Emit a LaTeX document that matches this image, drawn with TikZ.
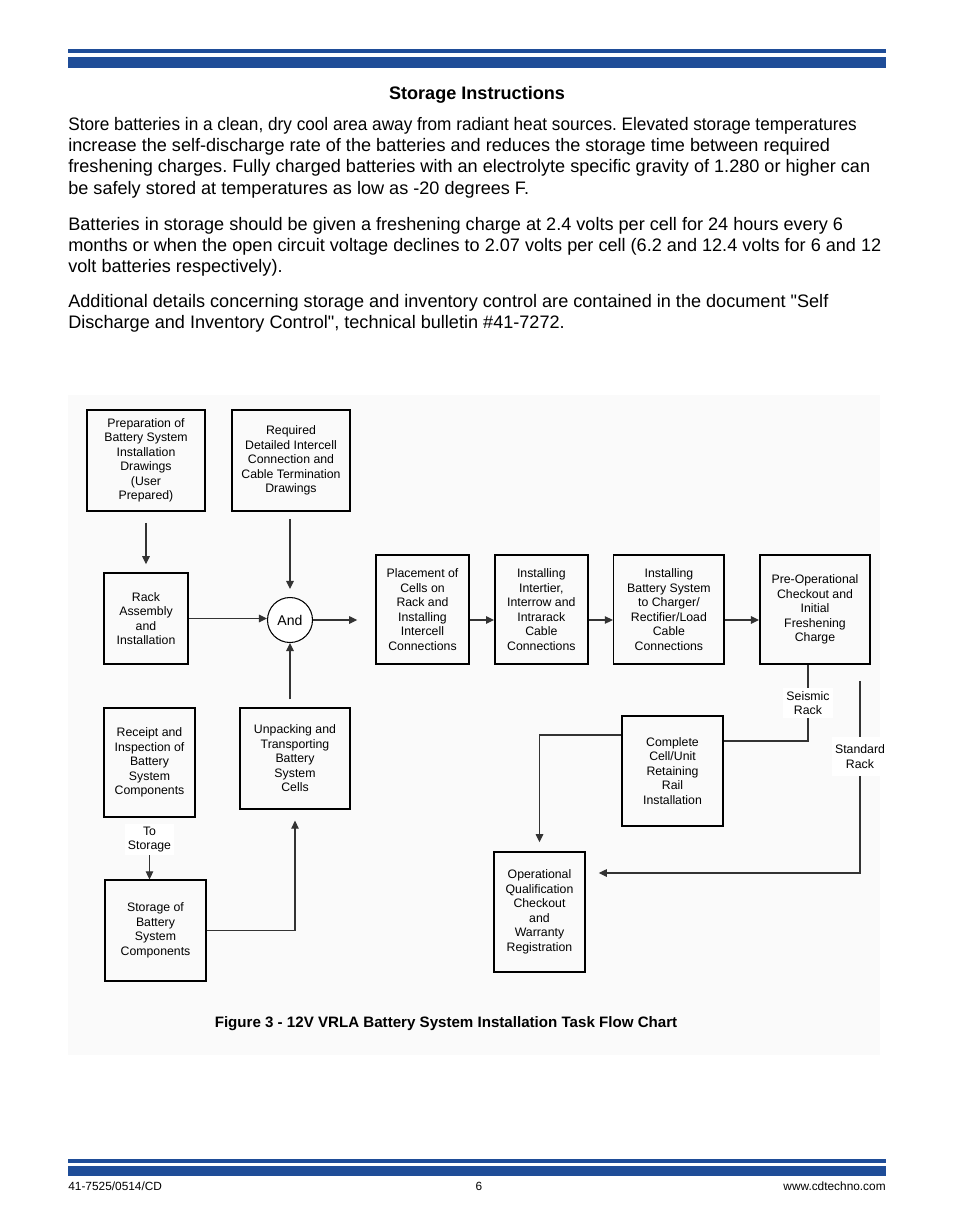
\documentclass[tikz,border=0pt]{standalone}
\usepackage{fontspec}
\setmainfont{Liberation Sans}[Ligatures=TeXOff]
\usepackage{xcolor}
\usepackage{tikz}
\usetikzlibrary{positioning, arrows.meta, calc}

\definecolor{cdblue}{HTML}{1F4D98}
\frenchspacing

\begin{document}
\begin{tikzpicture}[x=0.2mm, y=-0.2mm, >={Triangle[length=1.6mm,width=1.5mm]},
  box/.style={draw,line width=0.9pt,align=center,inner sep=1pt,font=\fontsize{7}{8.25}\selectfont},
  flow/.style={->,line width=0.6pt,draw=black!80},
  line/.style={line width=0.6pt,draw=black!80},
  lbl/.style={fill=white,align=center,inner sep=0.6mm,font=\fontsize{7}{8.25}\selectfont},
  body/.style={anchor=north west,inner sep=0,align=left,font=\fontsize{10.3}{12.1}\selectfont}]
  \useasboundingbox (0,0) rectangle (954,1227);
  % page bars
  \fill[cdblue] (68,49) rectangle (886,53);
  \fill[cdblue] (68,57.5) rectangle (886,68);
  \fill[cdblue] (68,1159) rectangle (886,1162.5);
  \fill[cdblue] (68,1166) rectangle (886,1176);

  % text
  \node[font=\fontsize{10.3}{12.1}\selectfont\bfseries] (title) at (477,95) {Storage Instructions};
  \node[body] (para1) at (68,117) {\scalebox{0.95}[1]{Store batteries in a clean, dry cool area away from radiant heat sources. Elevated storage temperatures}\\
    increase the self-discharge rate of the batteries and reduces the storage time between required\\
    freshening charges. Fully charged batteries with an electrolyte specific gravity of 1.280 or higher can\\
    be safely stored at temperatures as low as -20 degrees F.};
  \node[body] (para2) at (68,217) {Batteries in storage should be given a freshening charge at 2.4 volts per cell for 24 hours every 6\\
    months or when the open circuit voltage declines to 2.07 volts per cell (6.2 and 12.4 volts for 6 and 12\\
    volt batteries respectively).};
  \node[body] (para3) at (68,294) {Additional details concerning storage and inventory control are contained in the document "Self\\
    Discharge and Inventory Control", technical bulletin \#41-7272.};

  % figure
  \fill[black!2] (68,395) rectangle (880,1055);
  \node[box, minimum width=23.6mm, minimum height=20.2mm] (prep) at (146,460.5)
    {Preparation of\\Battery System\\Installation\\Drawings\\(User\\Prepared)};
  \node[box, minimum width=23.6mm, minimum height=20.2mm] (req) at (291,460.5)
    {Required\\Detailed Intercell\\Connection and\\Cable Termination\\Drawings};
  \node[box, minimum width=16.8mm, minimum height=18.2mm] (rack) at (146,618.5)
    {Rack\\Assembly\\and\\Installation};
  \node[draw, circle, line width=0.6pt, fill=white, minimum size=9mm, inner sep=0,
    font=\fontsize{8}{9}\selectfont] (and) at (290,620) {And};
  \node[box, minimum width=18.6mm, minimum height=21.8mm] (place) at (422.5,609.5)
    {Placement of\\Cells on\\Rack and\\Installing\\Intercell\\Connections};
  \node[box, minimum width=18.6mm, minimum height=21.8mm, right=4.85mm of place] (inter)
    {Installing\\Intertier,\\Interrow and\\Intrarack\\Cable\\Connections};
  \node[box, minimum width=22.1mm, minimum height=21.8mm, right=4.85mm of inter] (charger)
    {Installing\\Battery System\\to Charger/\\Rectifier/Load\\Cable\\Connections};
  \node[box, minimum width=22.1mm, minimum height=21.8mm, right=6.8mm of charger] (preop)
    {Pre-Operational\\Checkout and\\Initial\\Freshening\\Charge};
  \node[box, minimum width=18.2mm, minimum height=21.8mm] (receipt) at (149.5,762.5)
    {Receipt and\\Inspection of\\Battery\\System\\Components};
  \node[box, line width=0.7pt, minimum width=22mm, minimum height=20.2mm] (unpack) at (295,758.5)
    {Unpacking and\\Transporting\\Battery\\System\\Cells};
  \node[box, line width=0.7pt, minimum width=20.2mm, minimum height=20.2mm] (storage) at (155.5,930.5)
    {Storage of\\Battery\\System\\Components};
  \node[box, line width=0.7pt, minimum width=20.2mm, minimum height=22mm] (rail) at (672.5,771)
    {Complete\\Cell/Unit\\Retaining\\Rail\\Installation};
  \node[box, minimum width=18.2mm, minimum height=24mm] (opqual) at (539.5,912)
    {Operational\\Qualification\\Checkout\\and\\Warranty\\Registration};
  \coordinate (seis) at (808,741);
  \coordinate (std) at (860,873);

  \draw[flow, shorten <=2.2mm, shorten >=1.6mm] (prep.south) -- (prep.south |- rack.north);
  \draw[flow, shorten <=1.4mm, shorten >=1.6mm] (req.south -| and) -- (and.north);
  \draw[flow] (rack.east) -- (rack.east -| and.west);
  \draw[flow, shorten <=1.6mm] (unpack.north -| and) -- (and.south);
  \draw[flow, shorten >=3.6mm] (and.east) -- (and.east -| place.west);
  \draw[flow] (place.east |- and) -- (inter.west |- and);
  \draw[flow] (inter.east |- and) -- (charger.west |- and);
  \draw[flow] (charger.east |- and) -- (preop.west |- and);
  \draw[flow, shorten <=7mm] (receipt.south) -- node[lbl, pos=0.35]{To\\Storage} (receipt.south |- storage.north);
  \draw[flow, shorten >=2.2mm] (storage.east) -| (unpack.south);
  \draw[line] (preop.south -| seis) -- node[lbl]{Seismic\\Rack} (seis) -- (seis -| rail.east);
  \draw[flow, shorten <=3.2mm, shorten >=2.6mm] (preop.south -| std)
    -- node[lbl, pos=0.44, inner ysep=1.6mm]{Standard\\Rack} (std) -- (std -| opqual.east);
  \draw[flow, shorten >=1.8mm] ([yshift=7.2mm]rail.west) -| (opqual.north);

  \node[font=\fontsize{8.6}{10}\selectfont\bfseries] (caption) at (446,1024)
    {Figure 3 - 12V VRLA Battery System Installation Task Flow Chart};

  % footer
  \node[anchor=base west, inner sep=0, font=\fontsize{6.75}{8}\selectfont] (docno) at (68,1190) {41-7525/0514/CD};
  \node[anchor=base, inner sep=0, font=\fontsize{6.75}{8}\selectfont] (page) at (479,1190) {6};
  \node[anchor=base east, inner sep=0, font=\fontsize{6.75}{8}\selectfont] (web) at (886,1190) {www.cdtechno.com};
\end{tikzpicture}
\end{document}
